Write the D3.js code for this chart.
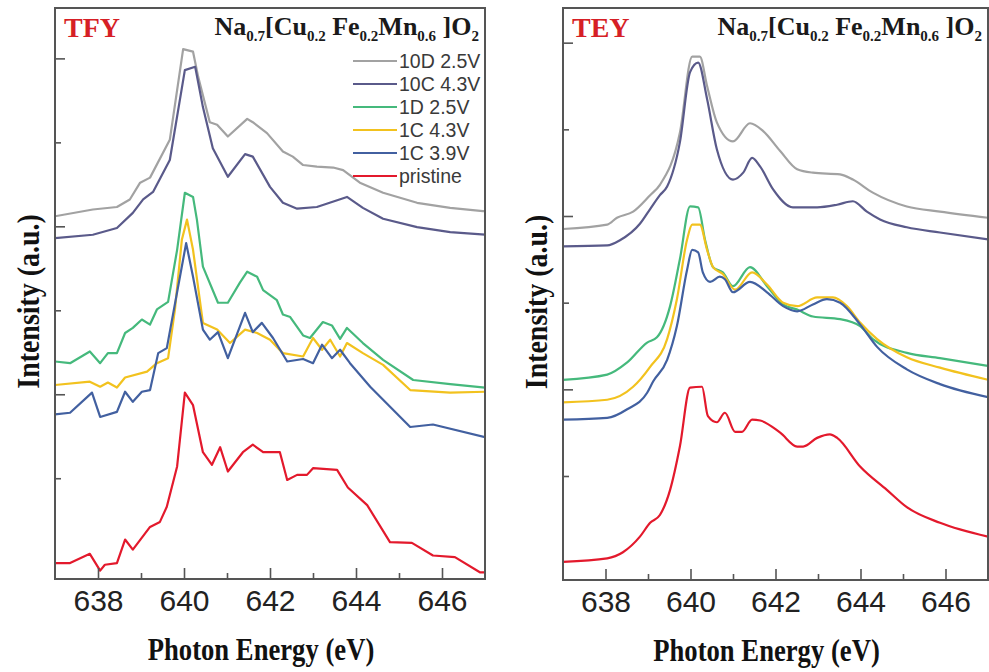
<!DOCTYPE html>
<html>
<head>
<meta charset="utf-8">
<script src="https://cdn.jsdelivr.net/npm/d3@7"></script>
<style>
  html, body { margin: 0; padding: 0; background: #fff; }
  svg { display: block; }
</style>
</head>
<body>
<svg id="chart" width="989" height="672"></svg>
<script>
// Mn L3-edge soft X-ray absorption spectra, Na0.7[Cu0.2Fe0.2Mn0.6]O2
// Each series: [photon energy (eV), normalised intensity with vertical offset]

const seriesNames = ["10D 2.5V", "10C 4.3V", "1D 2.5V", "1C 4.3V", "1C 3.9V", "pristine"];
const seriesColors = ["#a2a2a2", "#5a5a8a", "#45b97c", "#f2c21e", "#4260a0", "#e3192c"];
const energyMajorTicks = [638, 640, 642, 644, 646];
const energyMinorTicks = [639, 641, 643, 645];
const intensityMajorTicks = [2, 4, 6];
const intensityMinorTicks = [1, 3, 5];

// ---- TFY (bulk sensitive) ----
const tfy10D = [[637.00,4.12],[637.88,4.20],[638.44,4.23],[638.74,4.32],[638.98,4.52],[639.21,4.58],[639.67,5.03],[639.98,6.11],[640.21,6.08],[640.33,5.78],[640.60,5.24],[640.77,5.21],[641.02,5.07],[641.47,5.28],[641.60,5.24],[641.93,5.11],[642.30,4.89],[642.53,4.83],[642.77,4.73],[643.09,4.71],[643.47,4.70],[643.70,4.67],[644.09,4.52],[644.63,4.40],[645.42,4.28],[646.19,4.22],[646.95,4.18],[647.00,4.18]];
const tfy10C = [[637.00,3.86],[637.88,3.90],[638.44,3.98],[638.81,4.16],[639.05,4.32],[639.28,4.41],[639.67,4.79],[640.02,5.86],[640.26,5.90],[640.44,5.42],[640.67,4.93],[641.02,4.59],[641.42,4.86],[641.60,4.83],[642.00,4.47],[642.30,4.28],[642.63,4.21],[643.09,4.23],[643.79,4.35],[644.16,4.22],[644.63,4.09],[645.42,3.99],[646.19,3.93],[647.00,3.90]];
const tfy1D = [[637.00,2.39],[637.35,2.37],[637.81,2.51],[638.05,2.37],[638.23,2.49],[638.44,2.49],[638.63,2.73],[638.81,2.79],[639.02,2.89],[639.21,2.83],[639.37,3.01],[639.63,3.10],[639.84,3.72],[640.02,4.40],[640.21,4.35],[640.30,4.08],[640.44,3.52],[640.79,3.09],[641.02,3.09],[641.30,3.33],[641.47,3.46],[641.70,3.40],[641.84,3.24],[642.16,3.12],[642.30,2.95],[642.47,2.92],[642.77,2.70],[642.93,2.67],[643.23,2.86],[643.44,2.82],[643.63,2.66],[643.79,2.79],[644.16,2.61],[644.63,2.41],[645.33,2.17],[646.19,2.12],[647.00,2.08]];
const tfy1C43 = [[637.00,2.11],[637.81,2.15],[638.05,2.09],[638.23,2.14],[638.44,2.08],[638.63,2.20],[639.14,2.27],[639.37,2.37],[639.63,2.43],[639.79,3.01],[639.95,3.84],[640.07,4.08],[640.21,3.72],[640.44,2.85],[640.77,2.77],[641.07,2.61],[641.42,2.77],[641.70,2.73],[642.00,2.65],[642.30,2.49],[642.77,2.45],[643.00,2.67],[643.21,2.53],[643.40,2.65],[643.63,2.45],[643.79,2.61],[644.16,2.49],[644.63,2.35],[645.26,2.05],[646.19,2.02],[647.00,2.03]];
const tfy1C39 = [[637.00,1.76],[637.35,1.78],[637.86,2.02],[638.05,1.73],[638.44,1.79],[638.63,2.03],[638.81,1.91],[639.02,2.03],[639.21,2.05],[639.40,2.49],[639.60,2.55],[640.05,3.80],[640.21,3.40],[640.44,2.77],[640.60,2.65],[640.79,2.74],[641.02,2.43],[641.42,2.97],[641.60,2.74],[641.81,2.85],[642.07,2.67],[642.40,2.39],[642.77,2.42],[643.00,2.37],[643.21,2.59],[643.44,2.43],[643.63,2.53],[643.86,2.37],[644.33,2.09],[645.26,1.61],[645.79,1.64],[647.00,1.49]];
const tfyPristine = [[637.00,-0.01],[637.35,-0.01],[637.81,0.10],[638.05,-0.10],[638.16,-0.03],[638.44,-0.01],[638.63,0.27],[638.81,0.15],[639.21,0.42],[639.44,0.48],[639.60,0.66],[639.84,1.14],[640.02,2.02],[640.21,1.87],[640.44,1.31],[640.65,1.16],[640.84,1.37],[641.02,1.08],[641.37,1.31],[641.60,1.40],[641.84,1.31],[642.23,1.31],[642.40,0.98],[642.63,1.04],[642.86,1.04],[643.00,1.12],[643.56,1.10],[643.81,0.89],[644.26,0.68],[644.79,0.24],[645.30,0.23],[645.79,0.08],[646.30,0.06],[646.88,-0.12],[647.00,-0.12]];

// ---- TEY (surface sensitive) ----
const tey10D = [[637.00,3.85],[638.04,3.90],[638.27,3.98],[638.65,4.05],[639.05,4.24],[639.28,4.36],[639.75,4.96],[640.04,5.84],[640.22,5.84],[640.39,5.50],[640.62,5.08],[641.00,4.86],[641.40,5.07],[641.71,4.98],[642.11,4.75],[642.51,4.54],[642.88,4.50],[643.52,4.48],[643.82,4.42],[644.29,4.27],[645.09,4.11],[645.87,4.05],[647.00,3.98]];
const tey10C = [[637.00,3.65],[638.04,3.66],[638.34,3.72],[638.81,3.91],[639.05,4.08],[639.28,4.24],[639.45,4.34],[639.75,4.85],[639.99,5.66],[640.18,5.77],[640.39,5.35],[640.62,4.77],[641.00,4.42],[641.24,4.50],[641.45,4.67],[641.64,4.57],[641.94,4.31],[642.41,4.10],[642.98,4.10],[643.45,4.13],[643.82,4.17],[644.15,4.05],[644.46,3.96],[645.09,3.87],[645.87,3.81],[647.00,3.73]];
const tey1D = [[637.00,2.11],[638.04,2.17],[638.51,2.31],[638.98,2.54],[639.21,2.60],[639.52,2.96],[639.75,3.50],[639.99,4.11],[640.18,4.10],[640.34,3.73],[640.53,3.41],[640.76,3.35],[641.00,3.19],[641.40,3.41],[641.80,3.19],[642.18,2.98],[642.51,2.92],[642.88,2.84],[643.52,2.81],[643.99,2.73],[644.29,2.58],[645.09,2.42],[645.87,2.36],[647.00,2.27]];
const tey1C43 = [[637.00,1.85],[638.04,1.88],[638.65,2.03],[639.05,2.26],[639.45,2.58],[639.68,3.04],[639.92,3.73],[640.04,3.90],[640.22,3.90],[640.39,3.61],[640.53,3.41],[640.76,3.33],[641.05,3.15],[641.45,3.35],[641.80,3.21],[642.18,3.00],[642.51,2.96],[642.98,3.06],[643.35,3.06],[643.68,2.96],[643.99,2.77],[644.39,2.58],[645.09,2.37],[645.87,2.25],[647.00,2.11]];
const tey1C39 = [[637.00,1.65],[638.04,1.67],[638.51,1.77],[638.98,1.96],[639.12,2.09],[639.45,2.34],[639.68,2.73],[639.92,3.38],[640.04,3.61],[640.18,3.58],[640.29,3.35],[640.46,3.24],[640.69,3.30],[640.81,3.27],[641.00,3.12],[641.40,3.24],[641.80,3.12],[642.18,2.96],[642.51,2.90],[642.88,2.98],[643.21,3.04],[643.52,3.00],[643.99,2.75],[644.39,2.49],[645.09,2.23],[645.87,2.06],[647.00,1.91]];
const teyPristine = [[637.00,0.01],[638.04,0.05],[638.41,0.12],[638.81,0.30],[639.05,0.46],[639.28,0.55],[639.52,0.84],[639.75,1.34],[639.99,2.02],[640.27,2.03],[640.41,1.69],[640.62,1.62],[640.81,1.73],[641.05,1.51],[641.21,1.51],[641.45,1.65],[641.64,1.64],[642.11,1.50],[642.51,1.34],[642.65,1.34],[642.98,1.44],[643.28,1.48],[643.45,1.44],[643.99,1.11],[644.62,0.84],[645.09,0.64],[645.87,0.46],[647.00,0.30]];

const svg = d3.select("#chart");
const axisColor = "#555";
const serif = "'Liberation Serif', 'Times New Roman', serif";
const sans = "'Liberation Sans', Arial, sans-serif";

function drawPanel(cfg) {
  const x = d3.scaleLinear().domain([637, 647]).range([cfg.left, cfg.right]);
  const y = d3.scaleLinear().domain(cfg.yDomain).range([cfg.bottom, cfg.top]);
  const g = svg.append("g");

  // spectra
  const line = d3.line()
    .x(d => x(d[0]))
    .y(d => y(d[1]))
    .curve(cfg.curve);
  g.append("defs").append("clipPath").attr("id", cfg.id + "-clip")
    .append("rect")
    .attr("x", cfg.left).attr("y", cfg.top)
    .attr("width", cfg.right - cfg.left).attr("height", cfg.bottom - cfg.top);
  const plot = g.append("g").attr("clip-path", `url(#${cfg.id}-clip)`);
  cfg.series.forEach((s, i) => {
    plot.append("path")
      .datum(s)
      .attr("fill", "none")
      .attr("stroke", seriesColors[i])
      .attr("stroke-width", 2.2)
      .attr("stroke-linejoin", "round")
      .attr("d", line);
  });

  // energy axis: labelled major ticks, shorter minor ticks
  const xMajor = d3.axisBottom(x).tickValues(energyMajorTicks).tickSize(-11).tickPadding(11).tickFormat(d3.format("d"));
  const gx = g.append("g").attr("transform", `translate(0,${cfg.bottom})`).call(xMajor);
  const xMinor = d3.axisBottom(x).tickValues(energyMinorTicks).tickSize(-6).tickFormat("");
  const gx2 = g.append("g").attr("transform", `translate(0,${cfg.bottom})`).call(xMinor);
  [gx, gx2].forEach(a => {
    a.select(".domain").remove();
    a.selectAll(".tick line").attr("stroke", axisColor).attr("stroke-width", 1.6);
  });
  gx.selectAll(".tick text")
    .attr("fill", "#222")
    .style("font-family", "'Liberation Sans Narrow', 'Liberation Sans', Arial, sans-serif")
    .style("font-size", "30px");

  // intensity axis: unlabelled ticks
  const yMajor = d3.axisLeft(y).tickValues(intensityMajorTicks).tickSize(-10).tickFormat("");
  const yMinor = d3.axisLeft(y).tickValues(intensityMinorTicks).tickSize(-6).tickFormat("");
  [yMajor, yMinor].forEach(ax => {
    const a = g.append("g").attr("transform", `translate(${cfg.left},0)`).call(ax);
    a.select(".domain").remove();
    a.selectAll(".tick line").attr("stroke", axisColor).attr("stroke-width", 1.6);
  });

  // frame
  g.append("rect")
    .attr("x", cfg.left).attr("y", cfg.top)
    .attr("width", cfg.right - cfg.left).attr("height", cfg.bottom - cfg.top)
    .attr("fill", "none").attr("stroke", axisColor).attr("stroke-width", 2);

  // axis titles (tall, condensed bold serif)
  g.append("text")
    .attr("transform", `translate(${(cfg.left + cfg.right) / 2 - 9},${cfg.bottom + 81}) scale(0.86,1)`)
    .attr("text-anchor", "middle")
    .style("font-family", serif).style("font-weight", "bold").style("font-size", "31px")
    .attr("fill", "#111")
    .text("Photon Energy (eV)");
  g.append("text")
    .attr("transform", `translate(${cfg.left - 16},${(cfg.top + cfg.bottom) / 2 + 8}) rotate(-90) scale(0.9,1)`)
    .attr("text-anchor", "middle")
    .style("font-family", serif).style("font-weight", "bold").style("font-size", "31px")
    .attr("fill", "#111")
    .text("Intensity (a.u.)");

  // detection mode tag
  g.append("text")
    .attr("x", cfg.left + 9).attr("y", cfg.top + 29)
    .style("font-family", serif).style("font-weight", "bold").style("font-size", "28px")
    .attr("fill", "#d61f26")
    .text(cfg.mode);

  // compound formula with subscripts
  const f = g.append("text")
    .attr("x", cfg.right - 6).attr("y", cfg.top + 27)
    .attr("text-anchor", "end")
    .style("font-family", serif).style("font-weight", "bold").style("font-size", "26px")
    .attr("fill", "#1a1a1a");
  const parts = [["Na", false], ["0.7", true], ["[Cu", false], ["0.2", true], [" Fe", false], ["0.2", true], ["Mn", false], ["0.6", true], [" ]O", false], ["2", true]];
  let shifted = false;
  parts.forEach(([t, sub]) => {
    const ts = f.append("tspan").text(t);
    if (sub) {
      ts.style("font-size", "15px");
      if (!shifted) { ts.attr("dy", 6); shifted = true; }
    } else if (shifted) {
      ts.attr("dy", -6); shifted = false;
    }
  });

  if (cfg.legend) {
    const lg = g.append("g");
    seriesNames.forEach((name, i) => {
      const yy = 61 + i * 23;
      lg.append("line")
        .attr("x1", 353).attr("x2", 397).attr("y1", yy).attr("y2", yy)
        .attr("stroke", seriesColors[i]).attr("stroke-width", 2.2);
      lg.append("text")
        .attr("x", 399).attr("y", yy + 7)
        .style("font-family", sans).style("font-size", "19.5px")
        .attr("fill", "#3a3a3a")
        .text(name);
    });
  }
}

drawPanel({
  id: "tfy", mode: "TFY",
  left: 55, right: 485, top: 8, bottom: 579, yDomain: [-0.2, 6.6],
  curve: d3.curveLinear, legend: true,
  series: [tfy10D, tfy10C, tfy1D, tfy1C43, tfy1C39, tfyPristine]
});
drawPanel({
  id: "tey", mode: "TEY",
  left: 563, right: 988, top: 8, bottom: 580, yDomain: [-0.2, 6.4],
  curve: d3.curveMonotoneX, legend: false,
  series: [tey10D, tey10C, tey1D, tey1C43, tey1C39, teyPristine]
});
</script>
</body>
</html>
